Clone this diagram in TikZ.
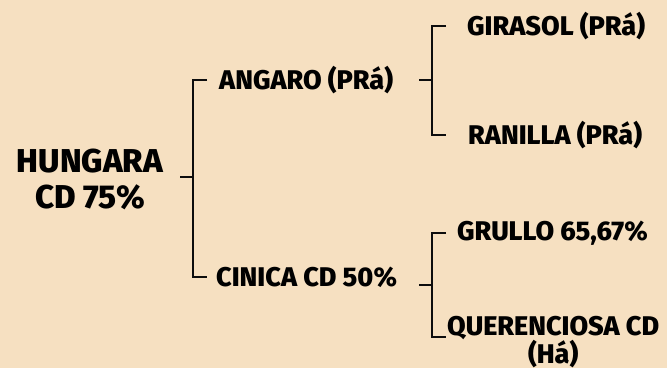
\documentclass[tikz,border=0pt]{standalone}
\usepackage{fontspec}
\setmainfont{Fira Sans}[BoldFont={Fira Sans ExtraBold}]
\usepackage{xcolor,tikz}
\usetikzlibrary{positioning}
\definecolor{paper}{HTML}{F6E0C1}

\begin{document}
\begin{tikzpicture}[x=1pt,y=-1pt,font=\bfseries\fontsize{27}{28}\selectfont,
 ln/.style={line width=2.8pt,black!95,line join=miter},
 lbl/.style={anchor=west,inner ysep=0pt,inner xsep=#1},
 lbl/.default=10pt]
\fill[paper] (0,0) rectangle (667,368);
\useasboundingbox (0,0) rectangle (667,368);
% root
\node[align=center,inner sep=0pt,font=\bfseries\fontsize{33}{36}\selectfont] (hungara) at (90,179) {HUNGARA\\CD 75\%};
\coordinate (j0) at (193,177);
\node[lbl=12pt] (angaro) at (207,80) {ANGARO (PRá)};
\node[lbl=9pt] (cinica) at (207,277) {CINICA CD 50\%};
% leaves
\coordinate (j1) at (432,80);
\coordinate (j2) at (432,285);
\coordinate (qa) at (446,337);
\node[lbl=21pt] (girasol) at (446,26) {GIRASOL (PRá)};
\node[lbl=22pt] (ranilla) at (446,135) {RANILLA (PRá)};
\node[lbl=11pt] (grullo) at (446,233) {GRULLO 65,67\%};
\node[lbl=1pt,inner ysep=0pt,align=center,anchor=north west] (quer) at (446,316) {QUERENCIOSA CD\\(Há)};
\draw[ln] (j0) -- ++(-13,0);
\draw[ln] (angaro.west) -| (j0) |- (cinica.west);
\draw[ln] (j1) -- ++(-13,0);
\draw[ln] (girasol.west) -| (j1) |- (ranilla.west);
\draw[ln] (j2) -- ++(-13,0);
\draw[ln] (grullo.west) -| (j2) |- (qa);
\end{tikzpicture}
\end{document}
